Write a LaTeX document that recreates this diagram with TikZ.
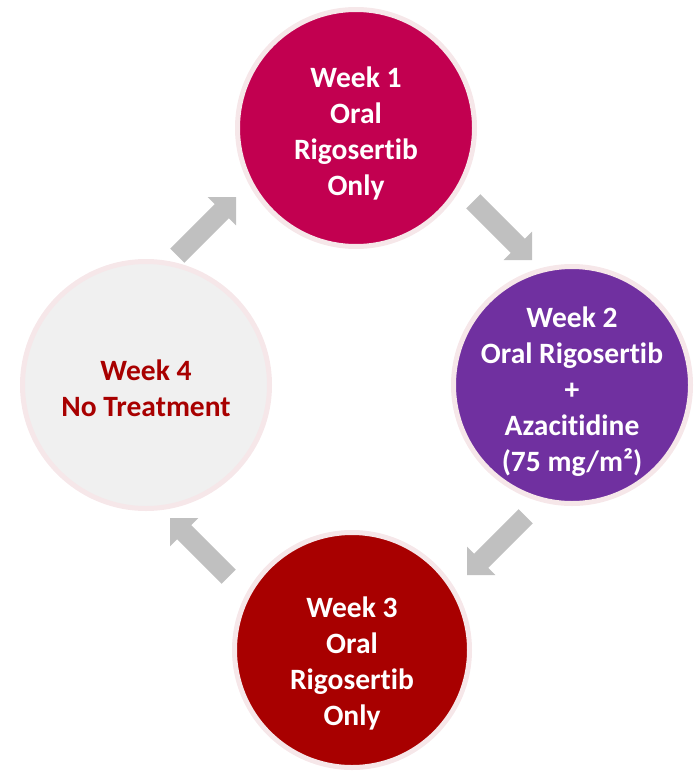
\documentclass[tikz,border=0pt]{standalone}
\usepackage{fontspec}
\setmainfont[Ligatures={NoCommon}]{Carlito}
\definecolor{ringpink}{HTML}{F6E7E9}
\definecolor{wkonefill}{HTML}{C20050}
\definecolor{wktwofill}{HTML}{7030A0}
\definecolor{wkthreefill}{HTML}{A80000}
\definecolor{wkfourfill}{HTML}{F0F0F0}
\definecolor{wkfourtext}{HTML}{A80000}
\definecolor{arrowgray}{HTML}{C0C0C0}
\tikzset{
  phase/.style={circle, draw=ringpink, line width=5pt, inner sep=0pt},
  phasetext/.style={align=center, inner sep=0pt,
    font=\fontsize{29.5}{36}\selectfont\bfseries, text=white},
  blockarrow/.style={fill=arrowgray, draw=none},
}
\newcommand{\cyclearrow}[2]{%
  \fill[blockarrow, shift={(#1)}, rotate=#2]
    (0pt,0pt) -- (-20pt,20pt) -- (-20pt,10pt) -- (-83pt,10pt) -- (-83pt,-10pt)
    -- (-20pt,-10pt) -- (-20pt,-20pt) -- cycle;}
\begin{document}
\begin{tikzpicture}[x=1pt,y=-1pt]
\useasboundingbox (0,0) rectangle (695,771);
\node[phase, fill=wkonefill, minimum size=237pt] (w1) at (356,128) {};
\node[phase, fill=wktwofill, minimum size=237pt] (w2) at (572,385) {};
\node[phase, fill=wkthreefill, minimum size=235pt] (w3) at (352,650) {};
\node[phase, fill=wkfourfill, minimum size=247pt] (w4) at (146,385) {};
\node[phasetext] (w1t) at ([yshift=-5pt]w1.center) {Week 1\\Oral\\Rigosertib\\Only};
\node[phasetext] (w2t) at ([yshift=-7pt]w2.center) {Week 2\\Oral Rigosertib\\+\\Azacitidine\\(75 mg/m²)};
\node[phasetext] (w3t) at ([yshift=-13pt]w3.center) {Week 3\\Oral\\Rigosertib\\Only};
\node[phasetext, text=wkfourtext] (w4t) at ([yshift=-3pt]w4.center) {Week 4\\No Treatment};
\coordinate (a1) at (236,197);
\coordinate (a2) at (532,260);
\coordinate (a3) at (467,575);
\coordinate (a4) at (170,518);
\cyclearrow{a1}{45}
\cyclearrow{a2}{-45}
\cyclearrow{a3}{-135}
\cyclearrow{a4}{135}
\end{tikzpicture}
\end{document}
